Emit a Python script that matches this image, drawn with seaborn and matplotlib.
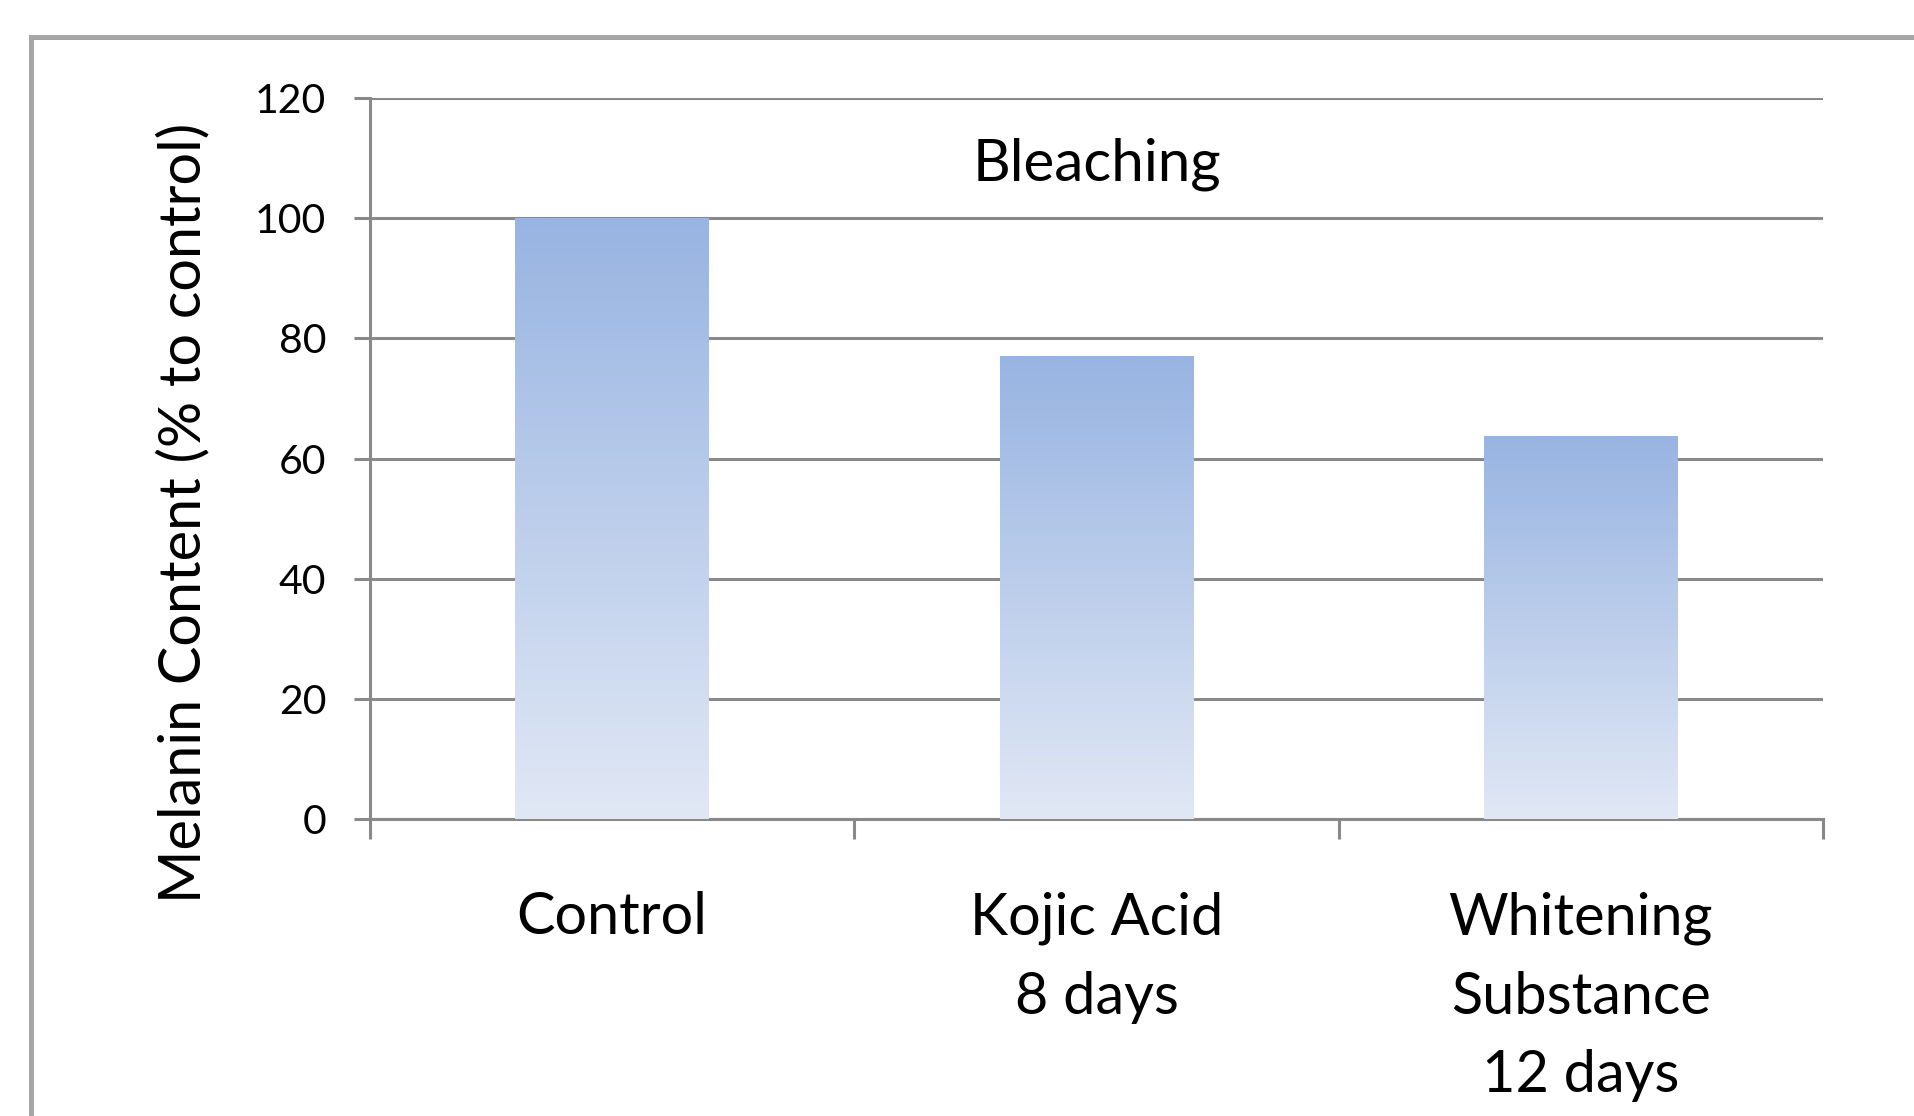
import matplotlib
matplotlib.use("Agg")
import matplotlib.pyplot as plt
import matplotlib.colors as colors
from matplotlib.patches import Rectangle
import seaborn as sns
import numpy as np
import pandas as pd

# data
categories = ["Control", "Kojic Acid\n8 days", "Whitening\nSubstance\n12 days"]
melanin = [100, 77, 63.7]
y_ticks = [0, 20, 40, 60, 80, 100, 120]

sns.set_theme(style="white")
plt.rcParams['font.family'] = ['Lato', 'DejaVu Sans']

df = pd.DataFrame({'group': categories, 'melanin': melanin})

W, H = 1914, 1116
fig = plt.figure(figsize=(W/100, H/100), dpi=100)
ax = fig.add_axes([370/W, 1-819/H, (1823-370)/W, (819-98)/H])

sns.barplot(data=df, x='group', y='melanin', width=0.4, ax=ax, color='#98b4e2', zorder=3)

# vertical gradient fill, dark on top, pale at the base
grad_cmap = colors.LinearSegmentedColormap.from_list('bar_grad', ['#e1e8f5', '#98b4e2'])
grad = np.linspace(0, 1, 256).reshape(-1, 1)
for bar in ax.patches:
    x0, w, h = bar.get_x(), bar.get_width(), bar.get_height()
    ax.imshow(grad, extent=[x0, x0+w, 0, h], origin='lower', aspect='auto', cmap=grad_cmap, zorder=3)
    bar.set_facecolor('none')
    bar.set_edgecolor('none')

ax.set_xlim(-0.5, 2.5)
ax.set_ylim(0, 120)
ax.set_yticks(y_ticks)
ax.set_xticks([-0.5, 0.5, 1.5, 2.5], minor=True)

gray = '#898989'
ax.yaxis.grid(True, color=gray, linewidth=2.2)
ax.set_axisbelow(True)
for s in ['top', 'right']:
    ax.spines[s].set_visible(False)
for s in ['left', 'bottom']:
    ax.spines[s].set_color(gray)
    ax.spines[s].set_linewidth(2.2)

ax.tick_params(axis='y', left=True, direction='out', length=11.5, width=2.2, color=gray,
               pad=20, labelsize=29.5, labelcolor='black')
ax.tick_params(axis='x', which='major', bottom=True, length=0, pad=52, labelsize=41.5, labelcolor='black')
ax.tick_params(axis='x', which='minor', bottom=True, direction='out', length=14.4, width=2.2, color=gray)
for lab in ax.get_xticklabels():
    lab.set_linespacing(1.6)
    lab.set_horizontalalignment('center')

ax.set_xlabel('')
ax.set_ylabel('')
ax.text(0.5, 0.908, 'Bleaching', transform=ax.transAxes, ha='center', va='center', fontsize=42, color='black')
fig.text(184/W, 1-513/H, 'Melanin Content (% to control)', rotation=90, ha='center', va='center',
         fontsize=41.5, color='black')

# outer chart border (cut off at right and bottom)
fig.add_artist(Rectangle((31/W, -1), 2, 2-37/H, transform=fig.transFigure, fill=False,
                         edgecolor='#a6a6a6', linewidth=3.6))

fig.savefig('out.png', dpi=100)
